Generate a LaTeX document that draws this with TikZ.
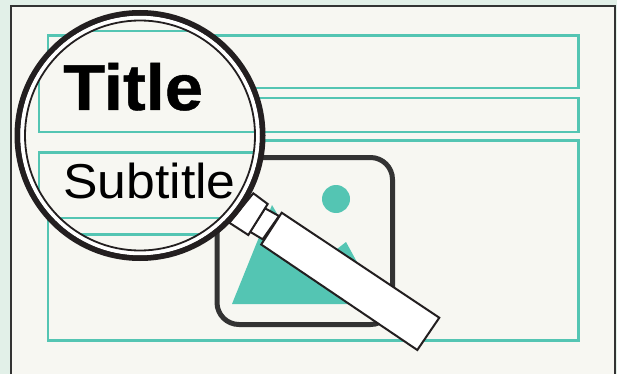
\documentclass[tikz,border=0pt]{standalone}
\usepackage{fontspec}
\setmainfont[FakeStretch=1.055]{Liberation Sans}
\newfontfamily\heavyfont[FakeStretch=1.055,FakeBold=0.7]{Liberation Sans Bold}
\definecolor{page}{RGB}{226,240,232}
\definecolor{sheet}{RGB}{247,247,242}
\definecolor{mint}{RGB}{84,197,179}
\definecolor{ink}{RGB}{51,51,51}
\definecolor{rim}{RGB}{35,31,32}
\begin{document}
\begin{tikzpicture}[x=1pt,y=-1pt,
 guide/.style={draw=mint,line width=2.6pt},
 metal/.style={draw=rim,fill=white,line width=2pt,line join=miter}]
\useasboundingbox (0,0) rectangle (617,374);
\fill[page] (0,0) rectangle (617,374);
\fill[sheet] (11,6) rectangle (615,374);
\draw[ink,line width=1.8pt] (11,374)--(11,6)--(615,6)--(615,374);
% page layout behind the glass
\draw[guide] (48,35.5) rectangle (578.5,88);
\draw[guide] (48,98) rectangle (578.5,132);
\draw[guide] (48,140.5) rectangle (578.5,340.5);
% picture placeholder
\draw[ink,line width=5pt,rounded corners=22pt] (217,157.5) rectangle (392.5,324.5);
\fill[mint] (232,304)--(272,205)--(310,270)--(346,242)--(380,304)--cycle;
\fill[mint] (336,199) circle (14);
% handle
\draw[metal] (265,208.3)--(279,216)--(262.7,239.3)--(250,231.7)--cycle;
\draw[metal] (253.3,193.3)--(267.7,204)--(248.3,235)--(229.3,222.7)--cycle;
\draw[metal] (281.7,212.7)--(439.3,317.7)--(417.3,350)--(261.2,244.5)--cycle;
% glass
\fill[sheet] (140,135.5) circle (120);
\begin{scope}
\clip (140,135.5) circle (115);
\draw[guide] (39,31) rectangle (400,132);
\draw[guide] (39,152.5) rectangle (400,218);
\draw[guide] (39,234.5) rectangle (400,340);
\end{scope}
\node[anchor=base west,inner sep=0pt,font=\fontsize{65}{65}\selectfont\heavyfont] (title) at (63,110) {Title};
\node[anchor=base west,inner sep=0pt,font=\fontsize{49}{49}\selectfont] (subtitle) at (63,198) {Subtitle};
\draw[rim,line width=6pt] (140,135.5) circle (122.5);
\draw[white,line width=4pt] (140,135.5) circle (117.7);
\draw[rim,line width=1.8pt] (140,135.5) circle (115);
\end{tikzpicture}
\end{document}
